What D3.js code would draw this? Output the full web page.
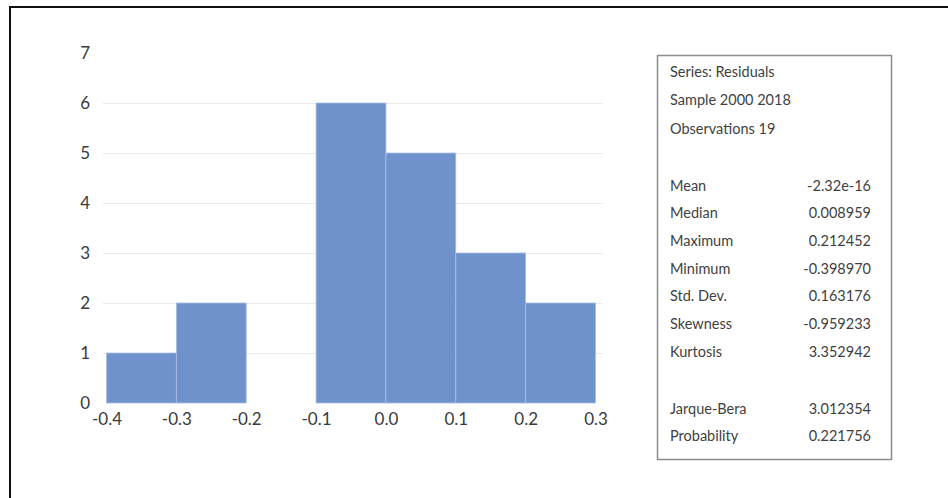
<!DOCTYPE html>
<html>
<head>
<meta charset="utf-8">
<script src="https://cdn.jsdelivr.net/npm/d3@7"></script>
<style>
    body { margin: 0; background: #fff; }
    svg { display: block; font-family: Lato, "Open Sans", sans-serif; }
</style>
</head>
<body>
<div id="chart"></div>
<script>
// histogram bins (left edges) and counts
const binEdges = [-0.4, -0.3, -0.2, -0.1, 0.0, 0.1, 0.2, 0.3];
const binCounts = [1, 2, 0, 6, 5, 3, 2];
const xTicks = [-0.4, -0.3, -0.2, -0.1, 0.0, 0.1, 0.2, 0.3];
const yTicks = [0, 1, 2, 3, 4, 5, 6, 7];

// summary statistics panel
const headerLines = ["Series: Residuals", "Sample 2000 2018", "Observations 19"];
const statNames = ["Mean", "Median", "Maximum", "Minimum", "Std. Dev.", "Skewness", "Kurtosis"];
const statValues = ["-2.32e-16", "0.008959", "0.212452", "-0.398970", "0.163176", "-0.959233", "3.352942"];
const testNames = ["Jarque-Bera", "Probability"];
const testValues = ["3.012354", "0.221756"];

const width = 948, height = 498;

const svg = d3.select("#chart").append("svg")
    .attr("width", width)
    .attr("height", height);

// outer frame (only top/left visible in the crop)
svg.append("rect")
    .attr("x", 10).attr("y", 7)
    .attr("width", width + 20).attr("height", height + 20)
    .attr("fill", "none")
    .attr("stroke", "#111")
    .attr("stroke-width", 2);

const x = d3.scaleLinear().domain([-0.4, 0.3]).range([106.5, 595.5]);
const y = d3.scaleLinear().domain([0, 7]).range([403, 53]);

// gridlines
svg.append("g")
    .attr("transform", "translate(103,0)")
    .call(d3.axisRight(y).tickValues(yTicks.filter(d => d > 0 && d < 7)).tickSize(500).tickFormat(""))
    .call(g => g.select(".domain").remove())
    .call(g => g.selectAll("line").attr("stroke", "#ebebeb").attr("stroke-width", 1));

// bars
const bins = binCounts.map((c, i) => ({x0: binEdges[i], x1: binEdges[i + 1], count: c}));
svg.append("g").selectAll("rect")
    .data(bins.filter(d => d.count > 0))
    .enter().append("rect")
    .attr("x", d => x(d.x0))
    .attr("y", d => y(d.count))
    .attr("width", d => x(d.x1) - x(d.x0))
    .attr("height", d => y(0) - y(d.count))
    .attr("fill", "#6f92cc")
    .attr("stroke", "#a9bfe3")
    .attr("stroke-width", 0.8);

const hyphen = f => d => f(d).replace("\u2212", "-");

// y axis labels
svg.append("g")
    .attr("transform", "translate(90,0)")
    .call(d3.axisLeft(y).tickValues(yTicks).tickSize(0).tickPadding(0).tickFormat(d3.format("d")))
    .call(g => g.select(".domain").remove())
    .attr("font-family", null)
    .attr("font-size", 17)
    .selectAll("text").attr("fill", "#3a3a3a");

// x axis labels
svg.append("g")
    .attr("transform", "translate(0,405)")
    .call(d3.axisBottom(x).tickValues(xTicks).tickSize(0).tickPadding(8).tickFormat(hyphen(d3.format(".1f"))))
    .call(g => g.select(".domain").remove())
    .attr("font-family", null)
    .attr("font-size", 17)
    .selectAll("text").attr("fill", "#3a3a3a");

// stats box
const box = svg.append("g");
box.append("rect")
    .attr("x", 657.5).attr("y", 55.5)
    .attr("width", 234).attr("height", 404)
    .attr("fill", "#fff")
    .attr("stroke", "#8c8c8c")
    .attr("stroke-width", 1.5);

const textLeft = 670, textRight = 871;
const txt = (s, xPos, yPos, anchor) => box.append("text")
    .attr("x", xPos).attr("y", yPos)
    .attr("text-anchor", anchor)
    .attr("dominant-baseline", "middle")
    .attr("font-size", "14.5px")
    .attr("fill", "#3f3f3f")
    .text(s);

headerLines.forEach((s, i) => txt(s, textLeft, 73 + i * 28.5, "start"));
statNames.forEach((s, i) => {
    txt(s, textLeft, 187 + i * 27.7, "start");
    txt(statValues[i], textRight, 187 + i * 27.7, "end");
});
testNames.forEach((s, i) => {
    txt(s, textLeft, 410 + i * 27.7, "start");
    txt(testValues[i], textRight, 410 + i * 27.7, "end");
});
</script>
</body>
</html>
